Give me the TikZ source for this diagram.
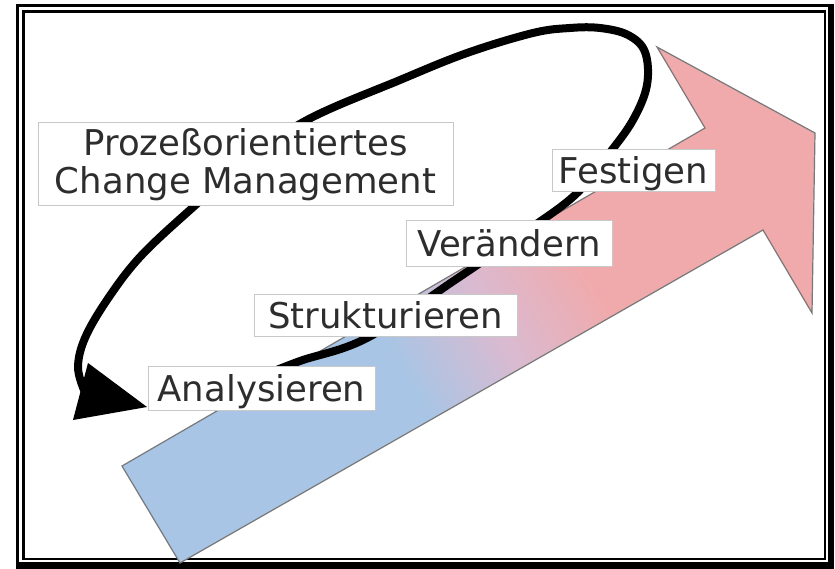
\documentclass[tikz,border=0pt]{standalone}
\usepackage{fontspec}
\setmainfont{DejaVu Sans}
\definecolor{ablue}{RGB}{168,197,229}
\definecolor{amid}{RGB}{218,186,208}
\definecolor{apink}{RGB}{240,170,172}
\definecolor{boxgray}{RGB}{200,200,200}
\definecolor{txtgray}{RGB}{45,45,45}
\definecolor{edgegray}{RGB}{120,120,120}
\pgfdeclarehorizontalshading{arrowshade}{100bp}{color(0bp)=(ablue); color(43.5bp)=(ablue); color(51bp)=(amid); color(58.5bp)=(apink); color(100bp)=(apink)}
\tikzset{
  lblbase/.style={draw=boxgray, line width=1pt, fill=white, inner sep=0pt, text=txtgray,
    font=\fontsize{35.5}{38}\selectfont},
  lbl/.style={lblbase, text height=26pt, text depth=0pt},
  loopline/.style={line width=8pt, line cap=round, line join=round},
  arrowedge/.style={draw=edgegray, line width=1.2pt, line join=miter},
}
\begin{document}
\begin{tikzpicture}[x=1pt,y=1pt]
\useasboundingbox (0,0) rectangle (835,569);
% frame
\fill[black] (16,0) rectangle (834,7);
\fill[black] (828,0) rectangle (834,565);
\draw[line width=3pt] (17.5,3.5) rectangle (829.5,563.5);
\draw[line width=2.5pt] (23.5,10) rectangle (825,557.5);
% big arrow
\coordinate (A1) at (122,103);
\coordinate (A2) at (705,441);
\coordinate (A3) at (657,522);
\coordinate (A4) at (815,436);
\coordinate (A5) at (812,256);
\coordinate (A6) at (763,339);
\coordinate (A7) at (180,6);
\begin{scope}
  \clip (A1) -- (A2) -- (A3) -- (A4) -- (A5) -- (A6) -- (A7) -- cycle;
  \shade[shading=arrowshade, shading angle=30] (118.5,-86) rectangle (818.5,614);
\end{scope}
\draw[arrowedge] (A1) -- (A2) -- (A3) -- (A4) -- (A5) -- (A6) -- (A7) -- cycle;
% loop
\coordinate (c1) at (262,193);
\coordinate (c2) at (300,208);
\coordinate (c3) at (367,231);
\coordinate (c4) at (455,289);
\coordinate (c5) at (525,337);
\coordinate (c6) at (575,374);
\coordinate (c7) at (608,414);
\coordinate (c8) at (633,449);
\coordinate (c9) at (647,484);
\coordinate (c10) at (645,517);
\coordinate (c11) at (628,534);
\coordinate (c12) at (600,541);
\coordinate (c13) at (570,541);
\coordinate (c14) at (533,536);
\coordinate (c15) at (467,516);
\coordinate (c16) at (400,489);
\coordinate (c17) at (307,449);
\coordinate (c18) at (245,406);
\coordinate (c19) at (190,359);
\coordinate (c20) at (140,312);
\coordinate (c21) at (107,269);
\coordinate (c22) at (85,231);
\coordinate (c23) at (78,202);
\coordinate (c24) at (84,179);
\draw[loopline] plot[smooth, tension=0.6] coordinates {(c1) (c2) (c3) (c4) (c5) (c6) (c7) (c8) (c9) (c10) (c11) (c12) (c13) (c14) (c15) (c16) (c17) (c18) (c19) (c20) (c21) (c22) (c23) (c24)};
\coordinate (T1) at (73,149);
\coordinate (T2) at (88,206);
\coordinate (T3) at (147,162);
\fill[black] (T1) -- (T2) -- (T3) -- cycle;
% labels
\node[lblbase, align=center, minimum width=415pt, minimum height=83pt] (pcm) at (245.5,404.5) {Prozeßorientiertes\\Change Management};
\node[lbl, minimum width=227pt, minimum height=44pt] (ana) at (261.5,180) {Analysieren};
\node[lbl, minimum width=263pt, minimum height=42pt] (str) at (385.5,253) {Strukturieren};
\node[lbl, minimum width=206pt, minimum height=46pt] (ver) at (509,325) {Verändern};
\node[lbl, minimum width=163pt, minimum height=42pt] (fes) at (633.5,398) {Festigen};
\end{tikzpicture}
\end{document}
